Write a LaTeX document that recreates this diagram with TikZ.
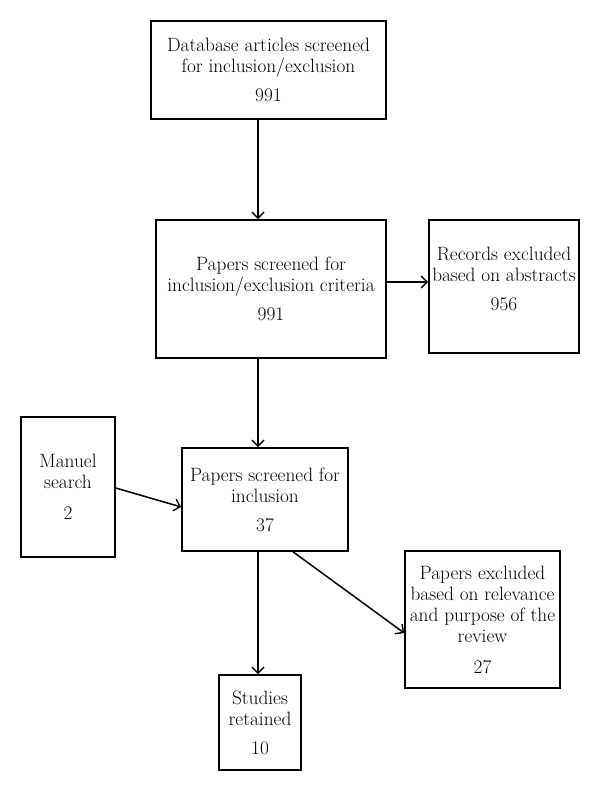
\documentclass[tikz,border=0pt]{standalone}
\usepackage{fontspec}
\usetikzlibrary{arrows.meta}
\begin{document}
\begin{tikzpicture}[x=1pt,y=-1pt,
  box/.style={draw, line width=1.6pt, inner sep=2pt, align=center,
    font=\fontsize{19.3}{21}\selectfont\addfontfeatures{FakeBold=1.5}},
  conn/.style={line width=1.5pt, -{Straight Barb[length=6pt,width=12pt,line width=1.4pt]}}]
\useasboundingbox (0,0) rectangle (600,791);
\node[box, minimum width=235, minimum height=98] (b1) at (268.5,70)
  {Database articles screened\\for inclusion/exclusion\\[8pt]991};
\node[box, minimum width=230, minimum height=138] (b2) at (271,289)
  {Papers screened for\\inclusion/exclusion criteria\\[8pt]991};
\node[box, minimum width=150, minimum height=133] (b3) at (504,286.5)
  {Records excluded\\based on abstracts\\[8pt]956\\[-6pt]\mbox{}};
\node[box, minimum width=94, minimum height=140] (b4) at (68,487)
  {Manuel\\search\\[10pt]2};
\node[box, minimum width=166, minimum height=103] (b5) at (265,499.5)
  {Papers screened for\\inclusion\\[8pt]37};
\node[box, minimum width=155, minimum height=137] (b6) at (482.5,619.5)
  {Papers excluded\\based on relevance\\and purpose of the\\review\\[10pt]27};
\node[box, minimum width=82, minimum height=95] (b7) at (260,722.5)
  {Studies\\retained\\[8pt]10};
\coordinate (vx) at (258,0);
\coordinate (h1) at (0,282);
\coordinate (m1) at (0,488);
\coordinate (m2) at (0,507);
\coordinate (d1) at (293,0);
\coordinate (d2) at (0,633);
\draw[conn] (b1.south -| vx) -- (b2.north -| vx);
\draw[conn] (b2.east |- h1) -- (b3.west |- h1);
\draw[conn] (b2.south -| vx) -- (b5.north -| vx);
\draw[conn] (b4.east |- m1) -- (b5.west |- m2);
\draw[conn] (b5.south -| d1) -- (b6.west |- d2);
\draw[conn] (b5.south -| vx) -- (b7.north -| vx);
\end{tikzpicture}
\end{document}
